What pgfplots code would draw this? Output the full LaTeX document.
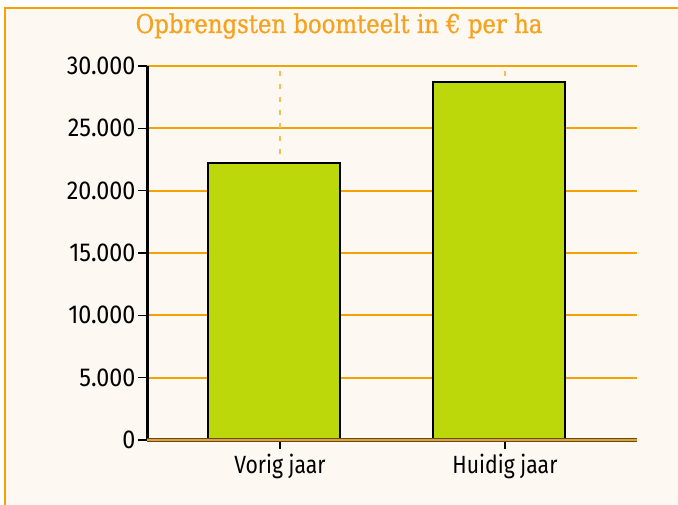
\documentclass[border=0pt]{standalone}
\usepackage{pgfplots}
\pgfplotsset{compat=1.18}
\usepackage{fontspec}
\setmainfont[FakeStretch=0.85]{Fira Sans}
\newfontfamily\yfont[FakeStretch=0.9]{Fira Sans}
\newfontfamily\titlefont[FakeStretch=0.88, FakeBold=0.8]{DejaVu Serif}
\definecolor{bgc}{HTML}{FDF8F2}
\definecolor{orc}{HTML}{F5A200}
\definecolor{tor}{HTML}{F5A21F}
\definecolor{barg}{HTML}{BDD80A}
\begin{document}
\begin{tikzpicture}
\path[use as bounding box] (0,0) rectangle (678bp,505bp);
\fill[bgc] (5bp,0) rectangle (678bp,497bp);
\draw[orc, line width=2bp] (5bp,0) -- (5bp,497bp) -- (678bp,497bp);
\node[anchor=base, text=tor, inner sep=0pt, font=\titlefont\fontsize{26}{30}\selectfont] at (339bp,472bp) {Opbrengsten boomteelt in € per ha};
\begin{axis}[
  at={(147bp,65bp)}, anchor=south west,
  width=490bp, height=374bp, scale only axis,
  xmin=-0.591, xmax=1.587, ymin=0, ymax=30000,
  axis lines*=left,
  y axis line style={black, line width=3bp},
  x axis line style={draw=none},
  scaled y ticks=false,
  xtick={0,1}, xticklabels={Vorig jaar, Huidig jaar},
  ytick={0,5000,10000,15000,20000,25000,30000},
  yticklabels={0,5.000,10.000,15.000,20.000,25.000,30.000},
  tick align=outside, major tick length=9bp,
  tick style={black, line width=1.3bp},
  ymajorgrids, major grid style={orc, line width=2bp},
  xticklabel style={font=\fontsize{25}{28}\selectfont, text=black, yshift=-2bp},
  yticklabel style={font=\yfont\fontsize{26}{29}\selectfont, text=black, xshift=1bp},
  clip=false,
]
\draw[orc!70, dash pattern=on 5bp off 8bp, line width=1.3bp] (axis cs:0,0) -- (axis cs:0,30000);
\draw[orc!70, dash pattern=on 5bp off 8bp, line width=1.3bp] (axis cs:1,0) -- (axis cs:1,30000);
\addplot[ybar, bar width=132bp, bar shift=-6bp, fill=barg, draw=black, line width=1.8bp] coordinates {(0,22200) (1,28700)};
\draw[black!70, line width=3.5bp] (rel axis cs:0,0) -- (rel axis cs:1,0);
\draw[orc, line width=1.8bp] (rel axis cs:0,0) -- (rel axis cs:1,0);
\end{axis}
\end{tikzpicture}
\end{document}
